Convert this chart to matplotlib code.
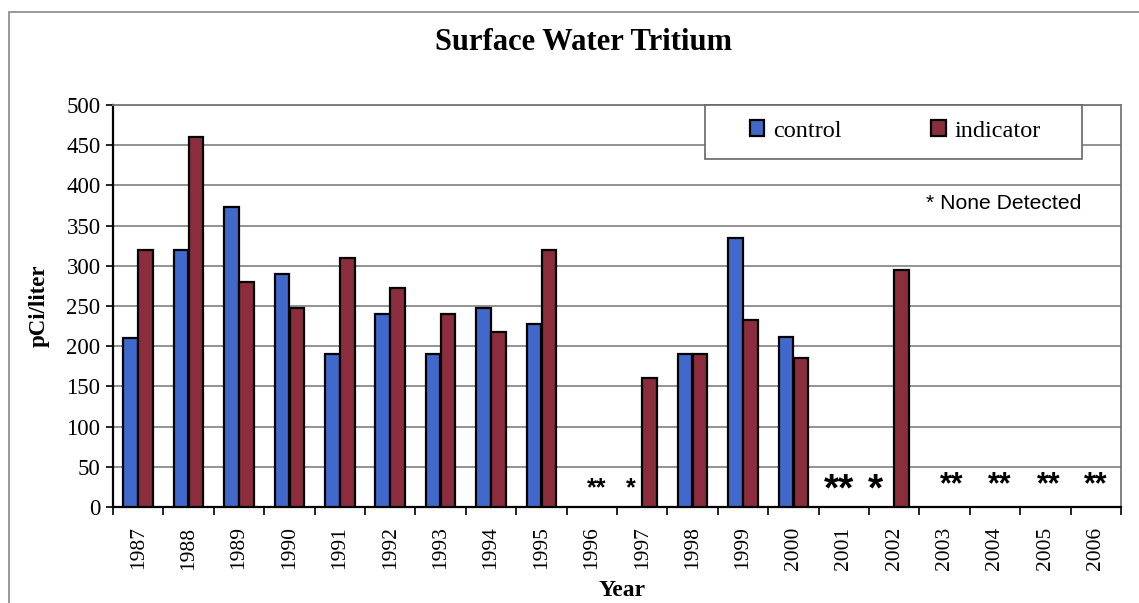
import numpy as np
import matplotlib
matplotlib.use('Agg')
import matplotlib.pyplot as plt
from matplotlib.patches import Rectangle

# data (None = none detected)
years = ['1987', '1988', '1989', '1990', '1991', '1992', '1993', '1994', '1995', '1996',
         '1997', '1998', '1999', '2000', '2001', '2002', '2003', '2004', '2005', '2006']
control = [210, 320, 373, 290, 190, 240, 190, 248, 228, None,
           None, 190, 335, 212, None, None, None, None, None, None]
indicator = [320, 460, 280, 248, 310, 273, 240, 218, 320, None,
             160, 190, 233, 185, None, 295, None, None, None, None]

# "none detected" markers
nd_years = ['1996', '1997', '2001', '2002', '2003', '2004', '2005', '2006']
nd_marks = ['**', '*', '**', '*', '**', '**', '**', '**']

blue = '#4169cc'
red = '#8b2d3d'
serif = 'Liberation Serif'
sans = 'Liberation Sans'

fig = plt.figure(figsize=(11.39, 6.03), dpi=100)
ax = fig.add_axes([113/1139, 1 - 507/603, (1121-113)/1139, (507-105)/603])

x = np.arange(len(years))
w = 0.29
cx = [i for i in x if control[i] is not None]
cv = [control[i] for i in cx]
ix = [i for i in x if indicator[i] is not None]
iv = [indicator[i] for i in ix]
ax.bar(np.array(cx) - 0.15, cv, w, color=blue, edgecolor='black', linewidth=1.6, label='control', zorder=3)
ax.bar(np.array(ix) + 0.15, iv, w, color=red, edgecolor='black', linewidth=1.6, label='indicator', zorder=3)

# asterisks for non-detects
offs = {'1996': 0.09, '1997': -0.22, '2001': -0.1, '2002': -0.37,
        '2003': 0.14, '2004': 0.1, '2005': 0.06, '2006': 0.0}
sizes = {'1996': 18, '1997': 18, '2001': 28, '2002': 28}
ypos = {'1996': 23, '1997': 23, '2001': 20, '2002': 20}
for yr, m in zip(nd_years, nd_marks):
    i = years.index(yr)
    ax.text(i + offs[yr], ypos.get(yr, 27), m, ha='center', va='center',
            fontsize=sizes.get(yr, 22), fontweight='bold', family=sans)

ax.set_xlim(-0.5, len(years) - 0.5)
ax.set_ylim(0, 500)
ax.set_yticks(range(0, 501, 50))
ax.tick_params(axis='y', labelsize=16.5, length=5, width=1.2, direction='out', pad=4)
for t in ax.get_yticklabels():
    t.set_family(serif)

ax.set_xticks(x)
ax.set_xticklabels(years, rotation=90, fontsize=15.5, family=serif)
ax.set_xticks(np.arange(-0.5, len(years), 1), minor=True)
ax.tick_params(axis='x', which='major', length=0, pad=14)
ax.tick_params(axis='x', which='minor', length=6, width=1.2, direction='out')

ax.yaxis.grid(True, color='#8a8a8a', linewidth=1.3, zorder=0)
ax.set_axisbelow(True)
for s in ['left', 'bottom']:
    ax.spines[s].set_color('black')
    ax.spines[s].set_linewidth(1.6)
for s in ['top', 'right']:
    ax.spines[s].set_color('#777777')
    ax.spines[s].set_linewidth(1.3)

ax.set_ylabel('pCi/liter', fontsize=16.5, fontweight='bold', family=serif, labelpad=12)
ax.set_xlabel('Year', fontsize=17, fontweight='bold', family=serif)
ax.xaxis.set_label_coords(0.505, -0.207)
ax.xaxis.label.set_va('center')

fig.text(0.512, 0.93, 'Surface Water Tritium', ha='center', va='center',
         fontsize=22, fontweight='bold', family=serif)

# legend box (white, grey border) with the legend centred inside
ax.add_patch(Rectangle((0.587, 0.865), 0.374, 0.135, transform=ax.transAxes,
                       facecolor='white', edgecolor='#666666', linewidth=1.2,
                       zorder=4, clip_on=False))
leg = ax.legend(loc='center', bbox_to_anchor=(0.776, 0.935), ncol=2,
                prop={'family': serif, 'size': 17.5}, frameon=False,
                handlelength=0.6, handleheight=0.6, handletextpad=0.35,
                columnspacing=3.7, borderpad=0)
leg.set_zorder(5)

ax.text(0.961, 0.755, '* None Detected', transform=ax.transAxes, ha='right', va='center',
        fontsize=15.2, family=sans)

# outer chart border (only left/top visible in the crop)
fig.add_artist(Rectangle((9/1139, -0.1), 1.2, 1.1 - 12/603, transform=fig.transFigure,
                         fill=False, edgecolor='#888888', linewidth=1.2))

fig.savefig('out.png', dpi=100)
